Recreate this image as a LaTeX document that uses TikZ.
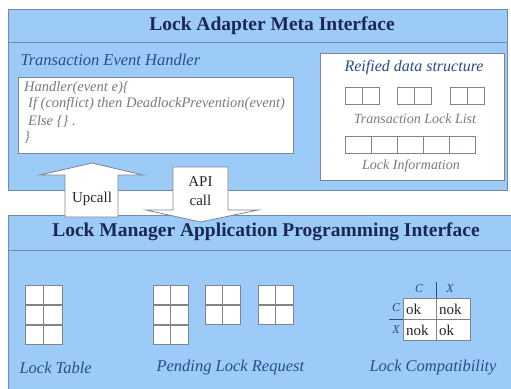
\documentclass[tikz,border=0pt]{standalone}
\usepackage{fontspec}
\setmainfont{Liberation Serif}
\usetikzlibrary{positioning,calc}
\definecolor{panelbg}{HTML}{9DCBF8}
\definecolor{panelline}{HTML}{6F8CB0}
\definecolor{titletext}{HTML}{1B2850}
\definecolor{labeltext}{HTML}{2B4C86}
\definecolor{graytext}{HTML}{7A7A7A}
\definecolor{cellline}{HTML}{7D8590}

\tikzset{
  panel/.style={fill=panelbg,draw=panelline,line width=1pt},
  titlefont/.style={text=titletext,font=\fontsize{19.5}{22}\selectfont\bfseries},
  caption/.style={text=labeltext,font=\fontsize{16.5}{19}\selectfont\itshape},
  graycap/.style={text=graytext,font=\fontsize{14}{16}\selectfont\itshape},
  codeline/.style={text=graytext,font=\fontsize{14.5}{16}\selectfont\itshape,anchor=west,inner sep=0pt},
  whitebox/.style={fill=white,draw=cellline,line width=0.8pt},
  cell/.style={fill=white,draw=cellline,line width=1pt},
  blockarrow/.style={fill=white,draw=cellline,line width=0.8pt},
  plaintext/.style={text=black!85,font=\fontsize{15}{17}\selectfont,inner sep=0pt},
}

\begin{document}
\begin{tikzpicture}[x=1pt,y=-1pt]
    \useasboundingbox (0,0) rectangle (511,388);

    % Lock Adapter Meta Interface
    \draw[panel] (8,9) rectangle (507,190);
    \draw[panelline,line width=1pt] (8,42) -- (507,42);
    \node[titlefont] (metatitle) at (272,26) {Lock Adapter Meta Interface};

    % Transaction event handler
    \node[caption,anchor=west] (handlercap) at (17,60) {Transaction Event Handler};
    \draw[whitebox] (18,77) rectangle (293,153);
    \node[codeline] (code1) at (24,88) {Handler(event e)\{};
    \node[codeline] (code2) at (28,104) {If (conflict) then DeadlockPrevention(event)};
    \node[codeline] (code3) at (28,121) {Else \{\} .};
    \node[codeline] (code4) at (24,137) {\}};

    % Reified data structure
    \draw[whitebox] (320,53) rectangle (504,180);
    \node[caption,font=\fontsize{16}{18}\selectfont\itshape] (reifiedcap) at (414,68) {Reified data structure};
    \foreach \x in {345,397,450} {
      \draw[cell] (\x,87) rectangle ++(17,17);
      \draw[cell] (\x+17,87) rectangle ++(17,17);
    }
    \node[graycap] (locklistcap) at (415,119) {Transaction Lock List};
    \foreach \i in {0,...,4}
      \draw[cell] (345+26*\i,136) rectangle ++(26,17);
    \node[graycap] (lockinfocap) at (411,166) {Lock Information};

    % Lock Manager Application Programming Interface
    \draw[panel] (8,215) rectangle (514,392);
    \draw[panelline,line width=1pt] (8,250) -- (514,250);
    \node[titlefont] (apititle) at (266,232) {Lock Manager Application Programming Interface};

    % Lock table
    \foreach \r in {0,1,2} {
      \draw[cell] (25,285+20*\r) rectangle ++(18.5,19);
      \draw[cell] (43.5,285+20*\r) rectangle ++(18.5,19);
    }
    \node[caption,anchor=west] (locktablecap) at (16,368) {Lock Table};

    % Pending lock requests
    \foreach \x/\n in {153/2,205/1,258/1} {
      \foreach \r in {0,...,\n} {
        \draw[cell] (\x,285+20*\r) rectangle ++(17.5,19);
        \draw[cell] (\x+17.5,285+20*\r) rectangle ++(17.5,19);
      }
    }
    \node[caption,anchor=west] (pendingcap) at (153,368) {Pending Lock Request};

    % Lock compatibility matrix
    \draw[cell,line width=0.8pt] (403,298) rectangle (436,319);
    \draw[cell,line width=0.8pt] (436,298) rectangle (470,319);
    \draw[cell,line width=0.8pt] (403,319) rectangle (436,340);
    \draw[cell,line width=0.8pt] (436,319) rectangle (470,340);
    \draw[labeltext,line width=0.6pt] (436,282) -- (436,298);
    \draw[labeltext,line width=0.6pt] (389,319) -- (403,319);
    \node[caption,font=\fontsize{12}{14}\selectfont\itshape] (colc) at (419,289) {C};
    \node[caption,font=\fontsize{12}{14}\selectfont\itshape] (colx) at (450,289) {X};
    \node[caption,font=\fontsize{12}{14}\selectfont\itshape] (rowc) at (396,308) {C};
    \node[caption,font=\fontsize{12}{14}\selectfont\itshape] (rowx) at (396,330) {X};
    \node[plaintext,anchor=west] (cc) at (406,309) {ok};
    \node[plaintext,anchor=west] (cx) at (439,309) {nok};
    \node[plaintext,anchor=west] (xc) at (406,330) {nok};
    \node[plaintext,anchor=west] (xx) at (439,330) {ok};
    \node[caption,anchor=west] (compatcap) at (366,368) {Lock Compatibility};

    % Upcall and API call arrows
    \draw[blockarrow] (65,217) -- (65,175) -- (40,175) -- (92,163) -- (143,175)
      -- (118,175) -- (118,217) -- cycle;
    \node[plaintext] (upcall) at (92,199) {Upcall};
    \draw[blockarrow] (173,167) -- (228,167) -- (228,210) -- (258,210) -- (200.5,222)
      -- (146,210) -- (173,210) -- cycle;
    \node[plaintext,align=center] (apicall) at (200.5,191) {API\\[2pt]call};
\end{tikzpicture}
\end{document}
